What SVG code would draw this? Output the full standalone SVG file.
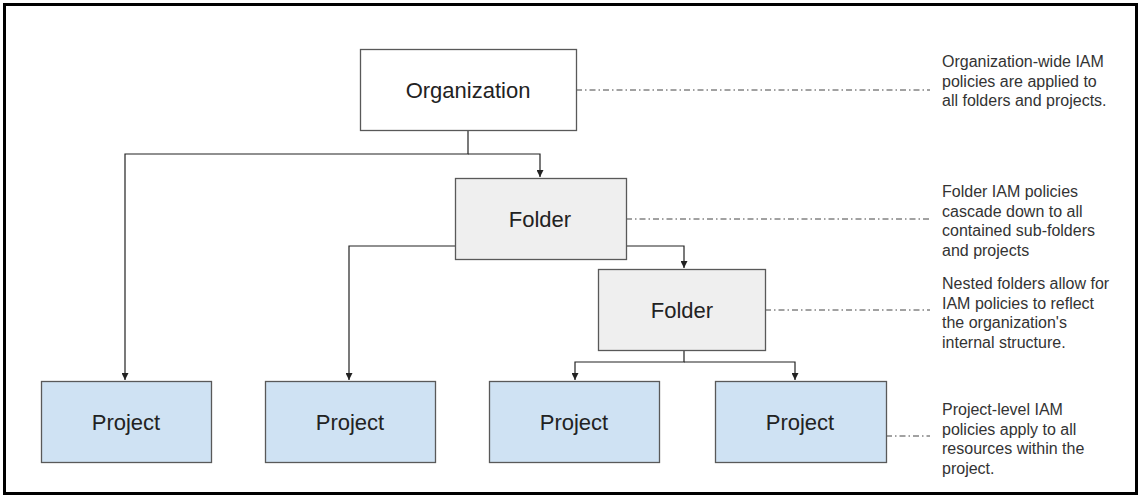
<svg xmlns="http://www.w3.org/2000/svg" width="1141" height="498" viewBox="0 0 1141 498">
<style>
.box{stroke:#595959;stroke-width:1.3}
.org{fill:#ffffff}
.fld{fill:#efefef}
.prj{fill:#cfe2f3}
.lbl{font-family:"Liberation Sans",Arial,sans-serif;font-size:22px;fill:#222;text-anchor:middle;dominant-baseline:central}
.note{font-family:"Liberation Sans",Arial,sans-serif;font-size:16px;fill:#333}
.con{fill:none;stroke:#222;stroke-width:1.2}
.dash{fill:none;stroke:#444;stroke-width:1;stroke-dasharray:6 3 1.5 3}
</style>
<defs>
<marker id="arr" viewBox="0 0 10 10" refX="10" refY="5" markerWidth="7" markerHeight="7" markerUnits="userSpaceOnUse" orient="auto">
<path d="M0,0 L10,5 L0,10 z" fill="#222"/>
</marker>
</defs>
<rect x="4.5" y="4.5" width="1132" height="489" fill="#fff" stroke="#000" stroke-width="3"/>
<g id="connectors">
<path class="con" d="M468,130 V154 H125 V380" marker-end="url(#arr)"/>
<path class="con" d="M468,154 H540 V177" marker-end="url(#arr)"/>
<path class="con" d="M540,260 V246 H349 V380" marker-end="url(#arr)"/>
<path class="con" d="M540,246 H684 V268" marker-end="url(#arr)"/>
<path class="con" d="M684,350 V362 H575 V380" marker-end="url(#arr)"/>
<path class="con" d="M684,362 H795 V380" marker-end="url(#arr)"/>
<path class="dash" d="M576,90 H930"/>
<path class="dash" d="M626,219 H930"/>
<path class="dash" d="M765,310 H930"/>
<path class="dash" d="M886,436 H930"/>
</g>
<g id="organization"><rect class="box org" x="360.5" y="49.5" width="216" height="81"/><text class="lbl" x="468" y="90">Organization</text></g>
<g id="folder1"><rect class="box fld" x="455.5" y="178.5" width="171" height="81"/><text class="lbl" x="540" y="219">Folder</text></g>
<g id="folder2"><rect class="box fld" x="598.5" y="269.5" width="167" height="81"/><text class="lbl" x="682" y="310">Folder</text></g>
<g id="project1"><rect class="box prj" x="41.5" y="381.5" width="170" height="81"/><text class="lbl" x="126" y="422">Project</text></g>
<g id="project2"><rect class="box prj" x="265.5" y="381.5" width="170" height="81"/><text class="lbl" x="350" y="422">Project</text></g>
<g id="project3"><rect class="box prj" x="489.5" y="381.5" width="170" height="81"/><text class="lbl" x="574" y="422">Project</text></g>
<g id="project4"><rect class="box prj" x="715.5" y="381.5" width="171" height="81"/><text class="lbl" x="800" y="422">Project</text></g>
<g id="notes">
<text class="note" x="942" y="67"><tspan x="942">Organization-wide IAM</tspan><tspan x="942" dy="19.5">policies are applied to</tspan><tspan x="942" dy="19.5">all folders and projects.</tspan></text>
<text class="note" x="942" y="197"><tspan x="942">Folder IAM policies</tspan><tspan x="942" dy="19.5">cascade down to all</tspan><tspan x="942" dy="19.5">contained sub-folders</tspan><tspan x="942" dy="19.5">and projects</tspan></text>
<text class="note" x="942" y="289"><tspan x="942">Nested folders allow for</tspan><tspan x="942" dy="19.5">IAM policies to reflect</tspan><tspan x="942" dy="19.5">the organization's</tspan><tspan x="942" dy="19.5">internal structure.</tspan></text>
<text class="note" x="942" y="415"><tspan x="942">Project-level IAM</tspan><tspan x="942" dy="19.5">policies apply to all</tspan><tspan x="942" dy="19.5">resources within the</tspan><tspan x="942" dy="19.5">project.</tspan></text>
</g>
</svg>
